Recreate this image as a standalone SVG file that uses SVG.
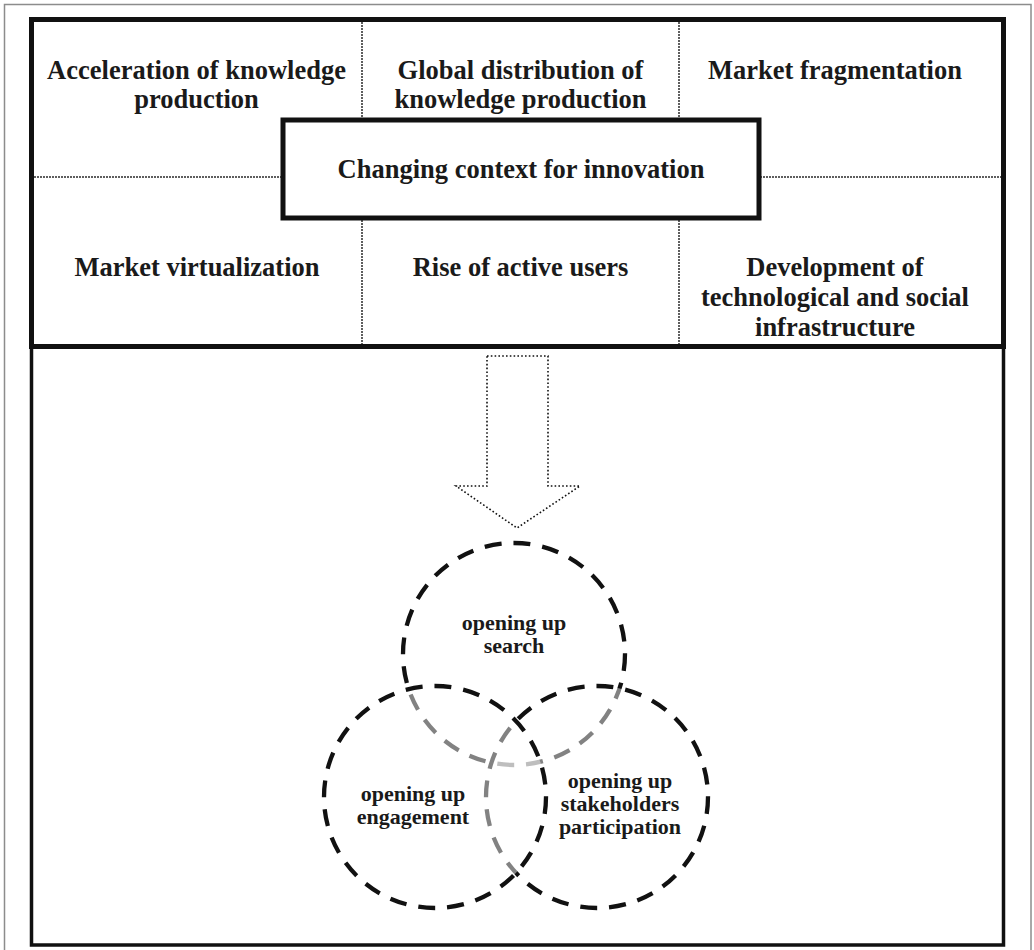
<svg xmlns="http://www.w3.org/2000/svg" width="1034" height="950" viewBox="0 0 1034 950">
  <style>
    .lbl { font-family: "Liberation Serif", "Times New Roman", serif; font-weight: bold; fill: #1a1a1a; text-anchor: middle; }
    .big { font-size: 26.5px; }
    .small { font-size: 22px; }
    .grid { stroke: #2a2a2a; stroke-width: 1.5; stroke-dasharray: 2 1; fill: none; }
    .venn { fill: #ffffff; fill-opacity: 0.48; stroke: #111111; stroke-width: 4.3; stroke-dasharray: 17 12; }
  </style>

  <!-- page frame -->
  <rect x="4.5" y="4.5" width="1026.5" height="950" fill="#ffffff" stroke="#8c8c8c" stroke-width="1.5"/>

  <!-- dotted cell dividers of the context panel -->
  <g id="panel-dividers">
    <line class="grid" x1="362" y1="22" x2="362" y2="344"/>
    <line class="grid" x1="679" y1="22" x2="679" y2="344"/>
    <line class="grid" x1="34" y1="177" x2="1001" y2="177"/>
  </g>

  <!-- outer panels -->
  <g id="context-panel">
    <rect x="31.5" y="19.5" width="972" height="327" fill="none" stroke="#111111" stroke-width="5"/>
  </g>
  <g id="open-innovation-panel">
    <rect x="31.5" y="346.5" width="972" height="598.5" fill="none" stroke="#111111" stroke-width="3.5"/>
  </g>

  <!-- trend cells -->
  <g id="acceleration">
    <text class="lbl big" x="196.5" y="79">Acceleration of knowledge</text>
    <text class="lbl big" x="196.5" y="108">production</text>
  </g>
  <g id="global-distribution">
    <text class="lbl big" x="520.5" y="79">Global distribution of</text>
    <text class="lbl big" x="520.5" y="108">knowledge production</text>
  </g>
  <g id="market-fragmentation">
    <text class="lbl big" x="835" y="79">Market fragmentation</text>
  </g>
  <g id="market-virtualization">
    <text class="lbl big" x="197" y="276">Market virtualization</text>
  </g>
  <g id="active-users">
    <text class="lbl big" x="520.5" y="276">Rise of active users</text>
  </g>
  <g id="infrastructure">
    <text class="lbl big" x="835" y="276">Development of</text>
    <text class="lbl big" x="835" y="306">technological and social</text>
    <text class="lbl big" x="835" y="336">infrastructure</text>
  </g>

  <!-- central label box -->
  <g id="changing-context">
    <rect x="283" y="120" width="476" height="98" fill="#ffffff" stroke="#111111" stroke-width="5"/>
    <text class="lbl big" x="521" y="178">Changing context for innovation</text>
  </g>

  <!-- connector: hollow dotted arrow -->
  <g id="connectors">
    <path d="M487 356 L548 356 L548 486 L580 486 L517 528 L456 486 L487 486 Z" fill="none" stroke="#111111" stroke-width="1.6" stroke-dasharray="1.6 2.2"/>
  </g>

  <!-- overlapping dimensions -->
  <g id="search">
    <circle class="venn" cx="514" cy="654" r="111"/>
  </g>
  <g id="stakeholders">
    <circle class="venn" cx="597" cy="797" r="111"/>
  </g>
  <g id="engagement">
    <circle class="venn" cx="435" cy="797" r="111"/>
  </g>

  <g id="venn-labels">
    <text class="lbl small" x="514" y="630">opening up</text>
    <text class="lbl small" x="514" y="653">search</text>
    <text class="lbl small" x="413" y="801">opening up</text>
    <text class="lbl small" x="413" y="824">engagement</text>
    <text class="lbl small" x="620" y="788">opening up</text>
    <text class="lbl small" x="620" y="811">stakeholders</text>
    <text class="lbl small" x="620" y="834">participation</text>
  </g>
</svg>
